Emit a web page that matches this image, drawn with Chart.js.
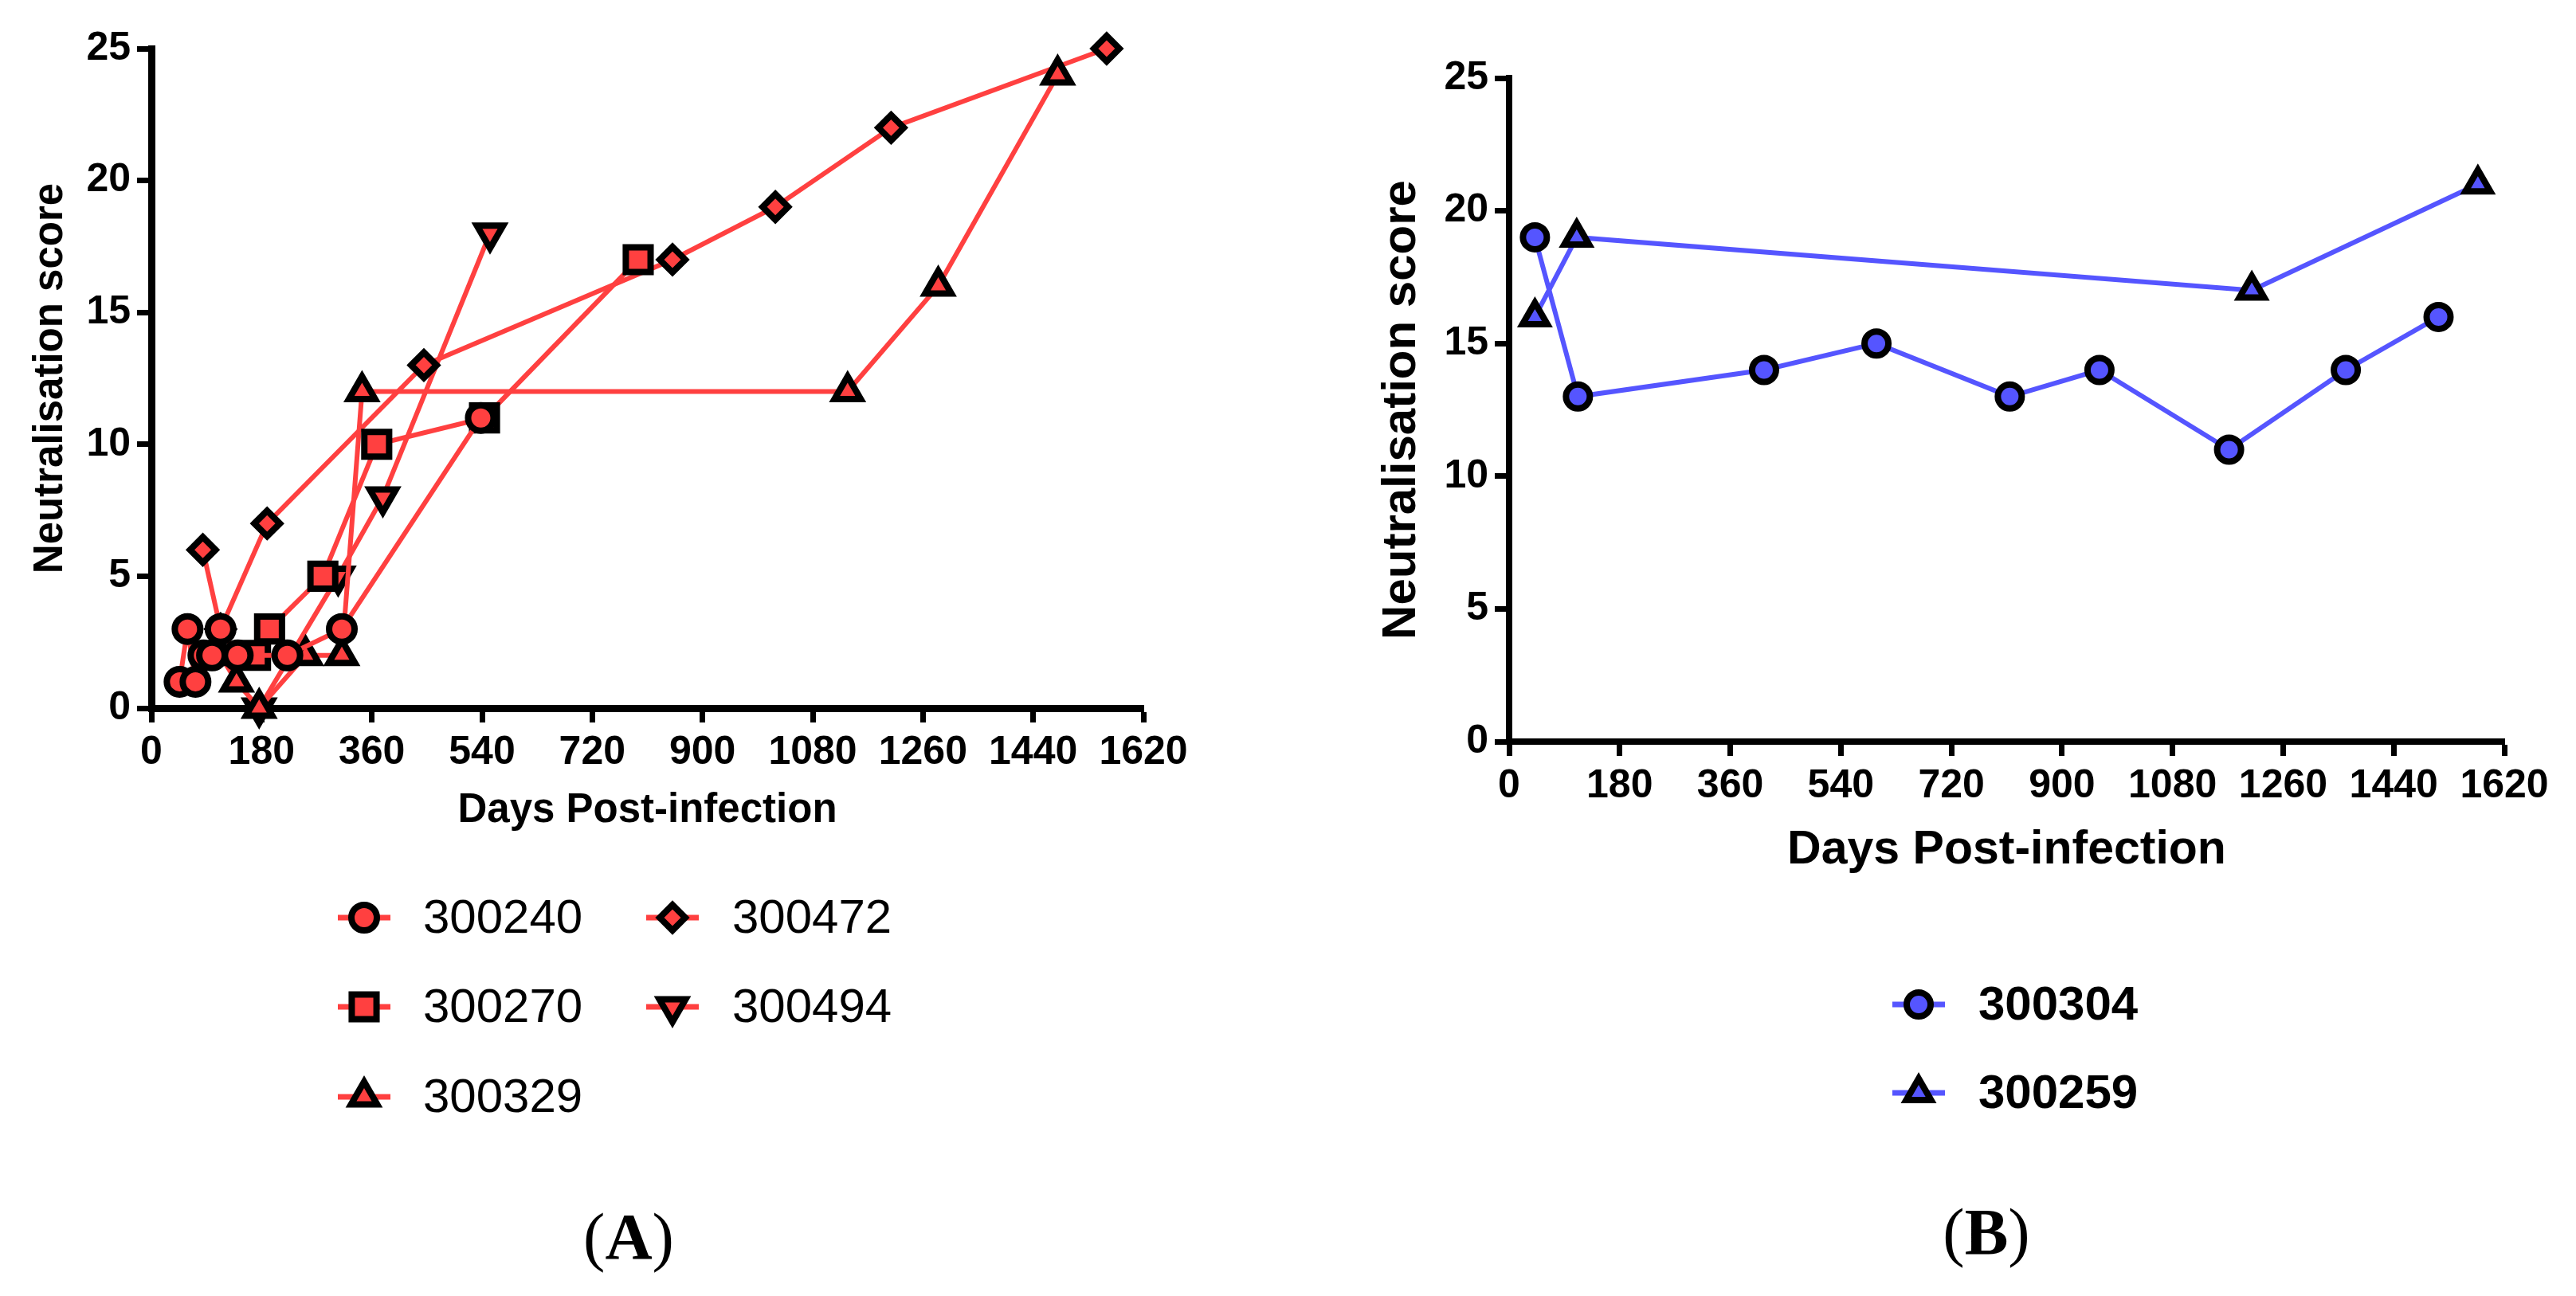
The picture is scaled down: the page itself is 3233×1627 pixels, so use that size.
<!DOCTYPE html>
<html>
<head>
<meta charset="utf-8">
<script src="https://cdn.jsdelivr.net/npm/chart.js@4.4.1/dist/chart.umd.min.js"></script>
<style>
	html, body { margin: 0; padding: 0; background: #fff; width: 3233px; height: 1627px; overflow: hidden; }
	canvas { position: absolute; top: 0; }
	#chartA { left: 0; }
	#chartB { left: 1640px; }
	.panel { position: absolute; font-family: "Liberation Serif", "Times New Roman", serif; font-size: 82px; color: #000; transform: translate(-50%, -50%); white-space: nowrap; }
</style>
</head>
<body>
<canvas id="chartA" width="1600" height="1627"></canvas>
<canvas id="chartB" width="1593" height="1627"></canvas>
<div class="panel" style="left:789px; top:1553px;">(<b>A</b>)</div>
<div class="panel" style="left:2493px; top:1547px;">(<b>B</b>)</div>
<script>
// panel A - days post-infection and scores per patient
const daysA240 = [46, 59, 72, 85, 99, 113, 141, 222, 311, 538];
const scoreA240 = [1, 3, 1, 2, 2, 3, 2, 2, 3, 11];
const daysA270 = [170, 193, 280, 368, 544, 795];
const scoreA270 = [2, 3, 5, 10, 11, 17];
const daysA329 = [113, 139, 176, 252, 311, 344, 1137, 1285, 1480];
const scoreA329 = [2, 1, 0, 2, 2, 12, 12, 16, 24];
const daysA472 = [84, 113, 189, 445, 851, 1019, 1208, 1560];
const scoreA472 = [6, 3, 7, 13, 17, 19, 22, 25];
const daysA494 = [176, 305, 378, 553];
const scoreA494 = [0, 5, 8, 18];

// panel B
const daysB304 = [42, 112, 415, 598, 815, 961, 1172, 1362, 1513];
const scoreB304 = [19, 13, 14, 15, 13, 14, 11, 14, 16];
const daysB259 = [42, 110, 1209, 1577];
const scoreB259 = [16, 19, 17, 21];

const dayTicks = [0, 180, 360, 540, 720, 900, 1080, 1260, 1440, 1620];
const scoreTicks = [0, 5, 10, 15, 20, 25];

const RED = 'rgb(255,64,64)';
const BLUE = 'rgb(85,85,255)';
const FONT = '"Liberation Sans", Arial, sans-serif';

function toPoints(days, scores) {
	return days.map((d, i) => ({ x: d, y: scores[i] }));
}

function series(label, days, scores, color, style, radius, rotation, border) {
	return {
		label: label,
		data: toPoints(days, scores),
		showLine: true,
		borderColor: color,
		borderWidth: 6,
		backgroundColor: color,
		pointStyle: style,
		pointRadius: radius,
		pointHoverRadius: radius,
		pointRotation: rotation,
		pointBorderColor: '#000',
		pointBorderWidth: border,
		pointHoverBorderWidth: border,
		pointBackgroundColor: color,
		clip: false,
	};
}

function axes(cfg) {
	const tickFont = { family: FONT, size: 50, weight: 'bold' };
	const grid = { drawOnChartArea: false, drawTicks: true, tickLength: 18, tickWidth: 7, tickColor: '#000' };
	return {
		x: {
			type: 'linear',
			min: 0,
			max: 1620,
			afterBuildTicks: (s) => { s.ticks = dayTicks.map((v) => ({ value: v })); },
			ticks: { color: '#000', font: tickFont, padding: 8, maxRotation: 0, autoSkip: false, callback: (v) => String(v) },
			grid: grid,
			border: { display: true, color: '#000', width: cfg.axisWidth },
			title: { display: true, text: 'Days Post-infection', color: '#000', font: { family: FONT, size: cfg.xTitleSize, weight: 'bold' }, padding: 0 },
			afterFit: (s) => { s.height = cfg.xHeight; },
		},
		y: {
			type: 'linear',
			min: 0,
			max: 25,
			afterBuildTicks: (s) => { s.ticks = scoreTicks.map((v) => ({ value: v })); },
			ticks: { color: '#000', font: tickFont, padding: 8, callback: (v) => String(v) },
			grid: grid,
			border: { display: true, color: '#000', width: cfg.axisWidth },
			title: { display: true, text: 'Neutralisation score', color: '#000', font: { family: FONT, size: cfg.yTitleSize, weight: 'bold' }, padding: { top: cfg.yTitlePad, bottom: 0 } },
			afterFit: (s) => { s.width = cfg.yWidth; },
		},
	};
}

// legend drawn inside the canvas at fixed spots, using the dataset styles
function legendPlugin(id, spots, textFont) {
	return {
		id: id,
		afterDraw(chart) {
			const ctx = chart.ctx;
			ctx.save();
			chart.data.datasets.forEach((ds, i) => {
				const s = spots[i];
				ctx.strokeStyle = ds.borderColor;
				ctx.lineWidth = 7;
				ctx.beginPath();
				ctx.moveTo(s[0] - 33, s[1]);
				ctx.lineTo(s[0] + 33, s[1]);
				ctx.stroke();
				ctx.fillStyle = ds.pointBackgroundColor;
				ctx.strokeStyle = '#000';
				ctx.lineWidth = ds.pointBorderWidth;
				Chart.helpers.drawPoint(ctx, {
					pointStyle: ds.pointStyle,
					rotation: ds.pointRotation,
					radius: ds.pointRadius,
					borderWidth: ds.pointBorderWidth,
				}, s[0], s[1]);
				ctx.fillStyle = '#000';
				ctx.font = textFont;
				ctx.textBaseline = 'middle';
				ctx.textAlign = 'left';
				ctx.fillText(ds.label, s[2], s[1] + 2);
			});
			ctx.restore();
		},
	};
}

new Chart(document.getElementById('chartA'), {
	type: 'scatter',
	data: {
		datasets: [
			series('300240', daysA240, scoreA240, RED, 'circle', 16, 0, 8),
			series('300270', daysA270, scoreA270, RED, 'rect', 22, 0, 8),
			series('300329', daysA329, scoreA329, RED, 'triangle', 19, 0, 8),
			series('300472', daysA472, scoreA472, RED, 'rectRot', 16, 0, 8),
			series('300494', daysA494, scoreA494, RED, 'triangle', 19, 180, 8),
		],
	},
	options: {
		responsive: false,
		animation: false,
		devicePixelRatio: 1,
		layout: { padding: { left: 0, top: 61, right: 165, bottom: 578 } },
		plugins: { legend: { display: false }, tooltip: { enabled: false } },
		scales: axes({ axisWidth: 9, xTitleSize: 51, yTitleSize: 51, yTitlePad: 33, xHeight: 160, yWidth: 190 }),
	},
	plugins: [legendPlugin('legendA', [
		[457, 1152, 531],
		[457, 1264, 531],
		[457, 1377, 531],
		[844, 1152, 919],
		[844, 1264, 919],
	], '60px ' + FONT)],
});

new Chart(document.getElementById('chartB'), {
	type: 'scatter',
	data: {
		datasets: [
			series('300304', daysB304, scoreB304, BLUE, 'circle', 15, 0, 8),
			series('300259', daysB259, scoreB259, BLUE, 'triangle', 18, 0, 8),
		],
	},
	options: {
		responsive: false,
		animation: false,
		devicePixelRatio: 1,
		layout: { padding: { left: 0, top: 98, right: 90, bottom: 524 } },
		plugins: { legend: { display: false }, tooltip: { enabled: false } },
		scales: axes({ axisWidth: 8, xTitleSize: 59, yTitleSize: 60, yTitlePad: 83, xHeight: 172, yWidth: 254 }),
	},
	plugins: [legendPlugin('legendB', [
		[768, 1261, 843],
		[768, 1372, 843],
	], 'bold 60px ' + FONT)],
});
</script>
</body>
</html>
